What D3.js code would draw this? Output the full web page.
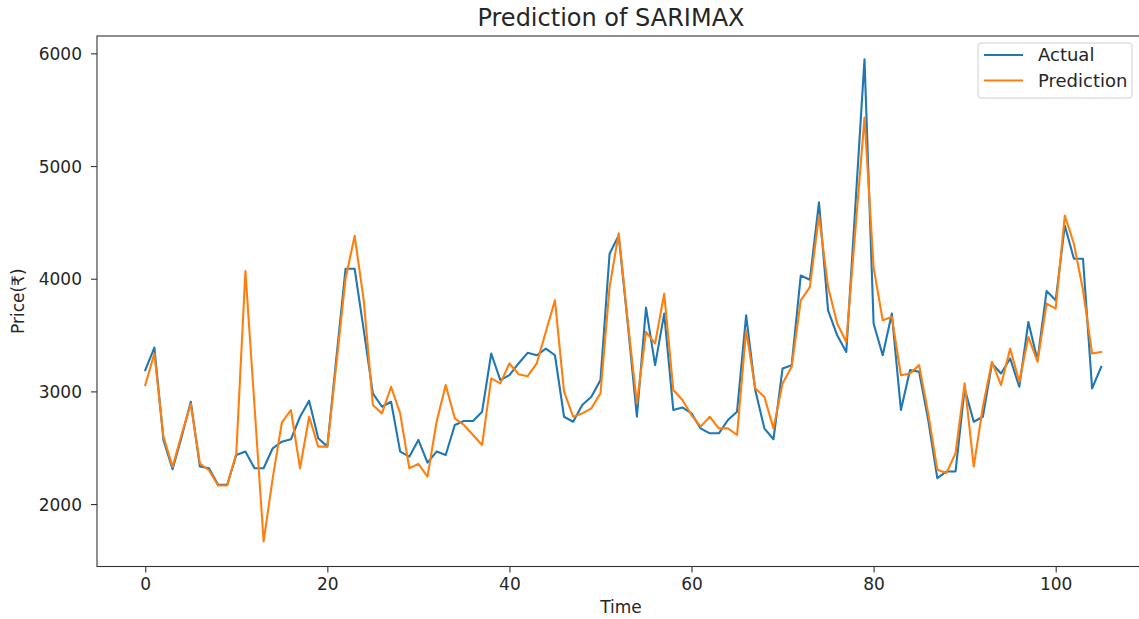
<!DOCTYPE html>
<html>
<head>
<meta charset="utf-8">
<script src="https://cdn.jsdelivr.net/npm/d3@7"></script>
<style>
  html, body { margin: 0; padding: 0; background: #fff; }
  svg { display: block; font-family: "DejaVu Sans", sans-serif; }
</style>
</head>
<body>
<svg id="chart" width="1139" height="619"></svg>
<script>
// Observed prices
const actual = [3189,3389,2569,2310,2598,2908,2333,2318,2171,2171,
  2436,2466,2318,2318,2495,2554,2575,2775,2917,2584,
  2510,3301,4088,4088,3543,2982,2864,2908,2466,2421,
  2569,2368,2466,2436,2702,2737,2737,2820,3336,3100,
  3144,3248,3342,3321,3380,3321,2775,2731,2879,2952,
  3100,4221,4383,3600,2775,3743,3233,3690,2835,2858,
  2805,2672,2628,2628,2746,2820,3675,3012,2672,2575,
  3204,3233,4029,3991,4678,3719,3498,3350,4650,5947,
  3602,3321,3690,2835,3189,3174,2746,2230,2289,2289,
  3026,2731,2775,3248,3159,3292,3041,3616,3277,3890,
  3808,4472,4177,4177,3026,3218];

// SARIMAX predictions
const prediction = [3056,3336,2600,2330,2620,2890,2360,2300,2165,2165,
  2451,4067,2870,1669,2230,2722,2835,2318,2775,2510,
  2510,3250,4000,4380,3808,2879,2805,3041,2805,2318,
  2357,2244,2731,3056,2761,2702,2613,2525,3115,3071,
  3248,3153,3135,3248,3530,3808,2997,2775,2805,2850,
  2982,3926,4404,3620,2894,3528,3425,3867,3012,2923,
  2790,2687,2775,2672,2672,2613,3543,3026,2952,2672,
  3071,3218,3808,3926,4560,3926,3602,3439,4436,5430,
  4100,3631,3660,3144,3159,3233,2805,2304,2275,2451,
  3071,2333,2864,3263,3056,3380,3085,3483,3263,3779,
  3735,4560,4310,3900,3336,3350];

const xTicks = [0, 20, 40, 60, 80, 100];
const yTicks = [2000, 3000, 4000, 5000, 6000];
const seriesNames = ["Actual", "Prediction"];
const seriesColors = ["#1f77b4", "#ff7f0e"];

const svg = d3.select("#chart");
const W = 1139, H = 619;
const plot = { left: 97, right: 1140, top: 36, bottom: 566.5 };

svg.append("rect").attr("width", W).attr("height", H).attr("fill", "#fff");

const x = d3.scaleLinear().domain([-5.3, 109.26]).range([plot.left, plot.right]);
const y = d3.scaleLinear().domain([1446, 6154]).range([plot.bottom, plot.top]);

const textColor = "#262626";
const fontSize = 17;

// Lines
const line = d3.line().x((d, i) => x(i)).y(d => y(d));
const g = svg.append("g");
[actual, prediction].forEach((data, k) => {
  g.append("path")
    .datum(data)
    .attr("fill", "none")
    .attr("stroke", seriesColors[k])
    .attr("stroke-width", 2.1)
    .attr("stroke-linejoin", "round")
    .attr("stroke-linecap", "square")
    .attr("d", line);
});

// Frame
svg.append("rect")
  .attr("x", plot.left).attr("y", plot.top)
  .attr("width", plot.right - plot.left).attr("height", plot.bottom - plot.top)
  .attr("fill", "none").attr("stroke", "#333").attr("stroke-width", 1.1);

// Axes
const xAxis = d3.axisBottom(x).tickValues(xTicks).tickSize(6).tickPadding(5).tickFormat(d3.format("d"));
const gx = svg.append("g").attr("transform", `translate(0,${plot.bottom})`).call(xAxis);
const yAxis = d3.axisLeft(y).tickValues(yTicks).tickSize(6).tickPadding(9).tickFormat(d3.format("d"));
const gy = svg.append("g").attr("transform", `translate(${plot.left},0)`).call(yAxis);
[gx, gy].forEach(ax => {
  ax.select(".domain").remove();
  ax.selectAll(".tick line").attr("stroke", "#333").attr("stroke-width", 1.1);
  ax.selectAll(".tick text").attr("fill", textColor)
    .style("font-size", fontSize + "px").style("font-family", "DejaVu Sans, sans-serif");
});
gy.selectAll(".tick text").attr("dy", "0.36em");

// Title and axis labels
svg.append("text").attr("x", 611).attr("y", 26)
  .attr("text-anchor", "middle").attr("fill", textColor)
  .style("font-size", "24px").text("Prediction of SARIMAX");
svg.append("text").attr("x", 621).attr("y", 613)
  .attr("text-anchor", "middle").attr("fill", textColor)
  .style("font-size", fontSize + "px").text("Time");
svg.append("text")
  .attr("transform", `translate(24,${(plot.top + plot.bottom) / 2}) rotate(-90)`)
  .attr("text-anchor", "middle").attr("fill", textColor)
  .style("font-size", fontSize + "px").text("Price(₹)");

// Legend
const lg = svg.append("g").attr("transform", "translate(978,43)");
lg.append("rect").attr("width", 154).attr("height", 55).attr("rx", 3)
  .attr("fill", "#fff").attr("fill-opacity", 0.8)
  .attr("stroke", "#d0d0d0").attr("stroke-width", 1);
seriesNames.forEach((name, i) => {
  const yy = 12 + i * 25.5;
  lg.append("line").attr("x1", 6).attr("x2", 45).attr("y1", yy).attr("y2", yy)
    .attr("stroke", seriesColors[i]).attr("stroke-width", 2.1);
  lg.append("text").attr("x", 60).attr("y", yy).attr("dy", "0.36em")
    .attr("fill", textColor).style("font-size", "18px").text(name);
});
</script>
</body>
</html>
